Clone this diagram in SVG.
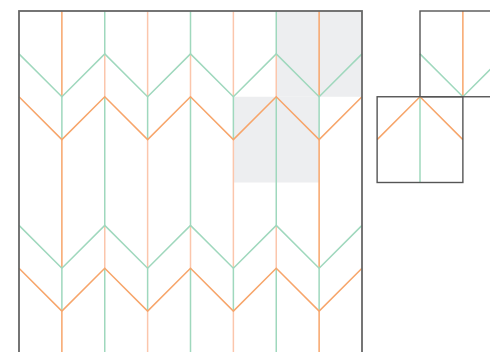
<svg xmlns="http://www.w3.org/2000/svg" width="490" height="352" viewBox="0 0 490 352">
<style>
.g{stroke:#9fd8bd;stroke-width:1.5;fill:none}
.o{stroke:#f7a56a;stroke-width:1.5;fill:none}
.op{stroke:#fbc6ac;stroke-width:1.5;fill:none}
.hl{fill:#edeef0;stroke:none}
.frame{fill:none;stroke:#666666;stroke-width:1.8}
.tile{fill:none;stroke:#555555;stroke-width:1.4}
</style>
<rect width="490" height="352" fill="#ffffff"/>
<g id="highlights">
<rect class="hl" x="276.25" y="11" width="85.75" height="85.75"/>
<rect class="hl" x="233.375" y="96.75" width="85.75" height="85.75"/>
</g>
<g id="connectors">
<path class="o" d="M61.875 11V96.75M61.875 139.625V268.25M61.875 311.125V354"/>
<path class="g" d="M61.875 96.75V139.625M61.875 268.25V311.125"/>
<path class="op" d="M147.625 11V96.75M147.625 139.625V268.25M147.625 311.125V354"/>
<path class="g" d="M147.625 96.75V139.625M147.625 268.25V311.125"/>
<path class="op" d="M233.375 11V96.75M233.375 139.625V268.25M233.375 311.125V354"/>
<path class="g" d="M233.375 96.75V139.625M233.375 268.25V311.125"/>
<path class="o" d="M319.125 11V96.75M319.125 139.625V268.25M319.125 311.125V354"/>
<path class="g" d="M319.125 96.75V139.625M319.125 268.25V311.125"/>
<path class="g" d="M104.75 11V53.875M104.75 96.75V225.375M104.75 268.25V354"/>
<path class="op" d="M104.75 53.875V96.75M104.75 225.375V268.25"/>
<path class="g" d="M190.5 11V53.875M190.5 96.75V225.375M190.5 268.25V354"/>
<path class="op" d="M190.5 53.875V96.75M190.5 225.375V268.25"/>
<path class="g" d="M276.25 11V53.875M276.25 96.75V225.375M276.25 268.25V354"/>
<path class="op" d="M276.25 53.875V96.75M276.25 225.375V268.25"/>
<polyline class="g" points="19,53.875 61.875,96.75 104.75,53.875 147.625,96.75 190.5,53.875 233.375,96.75 276.25,53.875 319.125,96.75 362,53.875"/>
<polyline class="o" points="19,96.75 61.875,139.625 104.75,96.75 147.625,139.625 190.5,96.75 233.375,139.625 276.25,96.75 319.125,139.625 362,96.75"/>
<polyline class="g" points="19,225.375 61.875,268.25 104.75,225.375 147.625,268.25 190.5,225.375 233.375,268.25 276.25,225.375 319.125,268.25 362,225.375"/>
<polyline class="o" points="19,268.25 61.875,311.125 104.75,268.25 147.625,311.125 190.5,268.25 233.375,311.125 276.25,268.25 319.125,311.125 362,268.25"/>
</g>
<g id="frame">
<rect class="frame" x="19" y="11" width="343" height="360"/>
</g>
<g id="tileA">
<path class="o" d="M462.875 11V96.75"/>
<polyline class="g" points="420,53.875 462.875,96.75 505.75,53.875"/>
<rect class="tile" x="420" y="11" width="85.75" height="85.75"/>
</g>
<g id="tileB">
<path class="g" d="M420 96.75V182.5"/>
<polyline class="o" points="377.125,139.625 420,96.75 462.875,139.625"/>
<rect class="tile" x="377.125" y="96.75" width="85.75" height="85.75"/>
</g>
</svg>
